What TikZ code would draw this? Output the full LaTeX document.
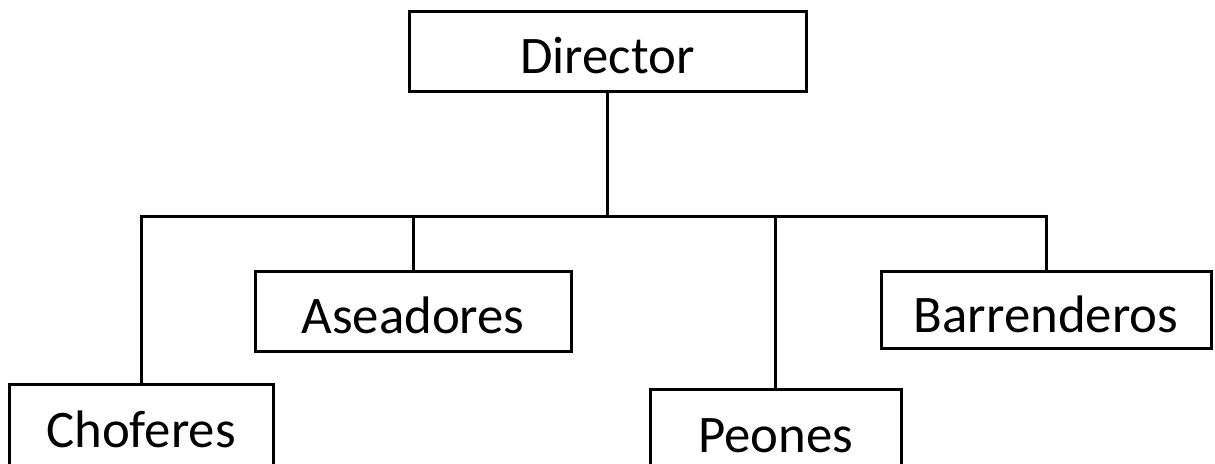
\documentclass[tikz,border=0pt]{standalone}
\usepackage{fontspec}
\setmainfont{Carlito}
\begin{document}
\begin{tikzpicture}[x=0.5pt,y=-0.5pt,line width=1.5pt,
    every node/.style = {shape=rectangle, draw, align=center,
    inner sep=0pt,
    font=\fontsize{26.4}{30}\selectfont, text height=24pt, text depth=2pt}]
\clip (0,0) rectangle (1215,464);
\node[minimum width=198.5pt,minimum height=40pt] (dir) at (607.5,52) {Director};
\node[minimum width=158pt,minimum height=40pt] (ase) at (413,312) {Aseadores};
\node[minimum width=165pt,minimum height=38.5pt] (bar) at (1046,310.5) {Barrenderos};
\node[minimum width=132pt,minimum height=40pt] (cho) at (141,425) {Choferes};
\node[minimum width=125.5pt,minimum height=40pt] (peo) at (775.5,430) {Peones};
\coordinate (bus) at (0,217);
\draw (dir.south) -- (dir.south |- bus);
\draw (cho.north) |- (bar.north |- bus) -- (bar.north);
\foreach \n in {ase,peo}
  \draw (\n.north) -- (\n.north |- bus);
\end{tikzpicture}
\end{document}
